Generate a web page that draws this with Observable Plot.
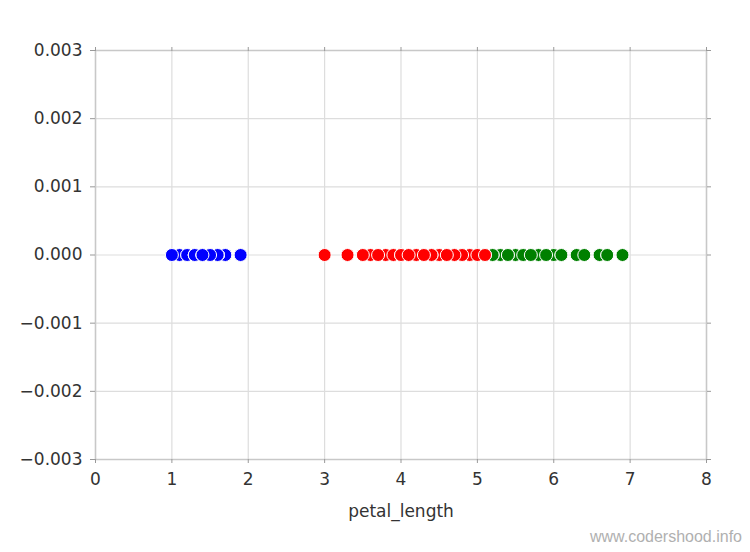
<!DOCTYPE html>
<html>
<head>
<meta charset="utf-8">
<script src="https://cdn.jsdelivr.net/npm/d3@7"></script>
<script src="https://cdn.jsdelivr.net/npm/@observablehq/plot@0.6"></script>
<style>
  html, body { margin: 0; padding: 0; background: #fff; }
  #wrap { position: relative; width: 750px; height: 552px; }
  #wm { position: absolute; right: 8px; bottom: 6px; font: 16px "Liberation Sans", Arial, sans-serif; color: #b0b0b0; }
</style>
</head>
<body>
<div id="wrap"><div id="wm">www.codershood.info</div></div>
<script>
const setosa = [1.4,1.4,1.3,1.5,1.4,1.7,1.4,1.5,1.4,1.5,1.5,1.6,1.4,1.1,1.2,1.5,1.3,1.4,1.7,1.5,1.7,1.5,1.0,1.9,1.6,1.6,1.5,1.4,1.6,1.6,1.5,1.5,1.4,1.5,1.2,1.3,1.4,1.3,1.5,1.3,1.3,1.3,1.6,1.9,1.4,1.6,1.4,1.5,1.4];
const versicolor = [4.7,4.5,4.9,4.0,4.6,4.5,4.7,3.3,4.6,3.9,3.5,4.2,4.0,4.7,3.6,4.4,4.5,4.1,4.5,3.9,4.8,4.0,4.9,4.7,4.3,4.4,4.8,5.0,4.5,3.5,3.8,3.7,3.9,5.1,4.5,4.5,4.7,4.4,4.1,4.0,4.4,4.6,4.0,3.3,4.2,4.2,4.2,4.3,3.0,4.1];
const virginica = [6.0,5.1,5.9,5.6,5.8,6.6,4.5,6.3,5.8,6.1,5.1,5.3,5.5,5.0,5.1,5.3,5.5,6.7,6.9,5.0,5.7,4.9,6.7,4.9,5.7,6.0,4.8,4.9,5.6,5.8,6.1,6.4,5.6,5.1,5.6,6.1,5.6,5.5,4.8,5.4,5.6,5.1,5.1,5.9,5.7,5.2,5.0,5.2,5.4,5.1];
const xTicks = [0,1,2,3,4,5,6,7,8];
const yTicks = [-0.003,-0.002,-0.001,0,0.001,0.002,0.003];

const font = "DejaVu Sans, sans-serif";
const tickColor = "#999";
const blank = () => "";

const chart = Plot.plot({
  width: 750,
  height: 552,
  marginLeft: 95,
  marginRight: 44,
  marginTop: 50,
  marginBottom: 93,
  style: { fontFamily: font, fontSize: "17px", color: "#333", background: "#fff" },
  x: { domain: [0, 8], ticks: xTicks },
  y: { domain: [-0.003, 0.003], ticks: yTicks },
  marks: [
    Plot.gridX(xTicks, { stroke: "#ddd", strokeOpacity: 1, strokeWidth: 1.2 }),
    Plot.gridY(yTicks, { stroke: "#ddd", strokeOpacity: 1, strokeWidth: 1.2 }),
    Plot.frame({ stroke: "#c8c8c8", strokeWidth: 1.5 }),
    Plot.axisX(xTicks, { anchor: "bottom", tickSize: 4, tickPadding: 9, stroke: tickColor, fill: "#333",
      label: "petal_length", labelAnchor: "center", labelArrow: "none", labelOffset: 57, tickFormat: d3.format("d") }),
    Plot.axisX(xTicks, { anchor: "top", tickSize: 4, stroke: tickColor, tickFormat: blank, label: null }),
    Plot.axisY(yTicks, { anchor: "left", tickSize: 5, tickPadding: 8, stroke: tickColor, fill: "#333",
      tickFormat: d3.format(".3f"), label: null }),
    Plot.axisY(yTicks, { anchor: "right", tickSize: 4, stroke: tickColor, tickFormat: blank, label: null }),
    Plot.dot(setosa, { x: d => d, y: 0, r: 6.5, fill: "#0000ff", stroke: "#fff", strokeWidth: 1 }),
    Plot.dot(virginica, { x: d => d, y: 0, r: 6.5, fill: "#008000", stroke: "#fff", strokeWidth: 1 }),
    Plot.dot(versicolor, { x: d => d, y: 0, r: 6.5, fill: "#ff0000", stroke: "#fff", strokeWidth: 1 })
  ]
});
document.getElementById("wrap").prepend(chart);
</script>
</body>
</html>
